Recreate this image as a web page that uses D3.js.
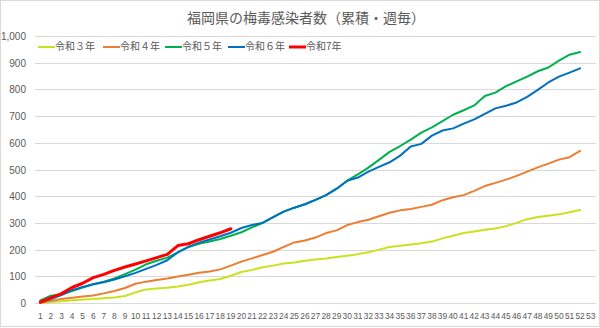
<!DOCTYPE html>
<html lang="ja">
<head>
<meta charset="utf-8">
<script src="https://cdn.jsdelivr.net/npm/d3@7/dist/d3.min.js"></script>
<style>
  html, body { margin: 0; padding: 0; background: #fff; }
  svg { display: block; }
  text { font-family: "Noto Sans CJK JP", "Noto Sans", sans-serif; fill: #595959; }
  .num { font-family: "Liberation Sans", "DejaVu Sans", sans-serif; }
</style>
</head>
<body>
<svg id="chart" width="600" height="328"></svg>
<script>
// Weekly cumulative syphilis cases in Fukuoka Prefecture, by year
const title = "福岡県の梅毒感染者数（累積・週毎）";
const weeks = d3.range(1, 54);               // x categories: week 1..53
const yTicks = [0, 100, 200, 300, 400, 500, 600, 700, 800, 900, 1000];

const seriesNames = ["令和３年", "令和４年", "令和５年", "令和６年", "令和7年"];
const seriesColors = ["#c9e21f", "#ed7d31", "#00b050", "#0070c0", "#ff0000"];

const r3 = [0, 4, 7, 10, 13, 15, 18, 21, 26, 40, 51, 54, 57, 62, 68, 78, 84, 90, 102, 116,
  124, 134, 140, 148, 152, 158, 163, 167, 172, 177, 183, 190, 200, 210, 214, 219, 224, 230, 242, 252,
  262, 268, 274, 279, 288, 300, 314, 322, 327, 332, 340, 348];
const r4 = [0, 8, 15, 20, 24, 28, 36, 45, 56, 72, 80, 86, 92, 99, 106, 113, 118, 126, 140, 155,
  167, 180, 192, 210, 227, 234, 245, 262, 272, 292, 303, 312, 325, 338, 347, 352, 360, 368, 385, 396,
  404, 420, 438, 450, 462, 476, 492, 508, 522, 537, 546, 570];
const r5 = [10, 27, 32, 45, 58, 70, 80, 92, 108, 125, 145, 158, 170, 190, 210, 222, 230, 240, 252, 265,
  283, 300, 322, 342, 357, 370, 386, 404, 428, 458, 482, 507, 536, 566, 588, 612, 638, 658, 681, 705,
  722, 740, 775, 788, 812, 830, 848, 868, 882, 908, 930, 940];
const r6 = [3, 15, 30, 48, 60, 70, 78, 88, 100, 113, 128, 143, 160, 190, 210, 226, 238, 250, 263, 281,
  292, 300, 322, 342, 357, 370, 386, 404, 428, 458, 470, 492, 510, 527, 552, 586, 596, 627, 646, 654,
  672, 688, 708, 729, 739, 751, 772, 798, 826, 848, 863, 879];
const r7 = [3, 20, 35, 58, 74, 95, 107, 122, 135, 146, 158, 170, 182, 215, 222, 237, 250, 263, 278];

const seriesValues = [r3, r4, r5, r6, r7];
const seriesWidths = [2, 2, 2, 2, 3];

const svg = d3.select("#chart");

// outer frame of the chart
svg.append("rect")
  .attr("x", 0.5).attr("y", 0.5)
  .attr("width", 599).attr("height", 326)
  .attr("fill", "#fff").attr("stroke", "#d9d9d9");

const x = d3.scaleBand().domain(weeks).range([35, 596]);
const y = d3.scaleLinear().domain([0, 1000]).range([303, 36]);

// horizontal gridlines
svg.append("g")
  .selectAll("line")
  .data(yTicks)
  .join("line")
  .attr("x1", 35).attr("x2", 596)
  .attr("y1", d => Math.round(y(d)) + 0.5)
  .attr("y2", d => Math.round(y(d)) + 0.5)
  .attr("stroke", "#d9d9d9").attr("stroke-width", 1);

// y axis labels
const yAxis = d3.axisLeft(y).tickValues(yTicks).tickFormat(d3.format(",")).tickSize(0).tickPadding(0);
svg.append("g")
  .attr("transform", "translate(26,0)")
  .call(yAxis)
  .call(g => g.select(".domain").remove())
  .call(g => g.selectAll("text")
    .attr("class", "num")
    .attr("font-size", 10)
    .attr("fill", "#595959")
    .attr("dy", "0.35em"));

// x axis labels
const xAxis = d3.axisBottom(x).tickSize(0).tickPadding(0);
svg.append("g")
  .attr("transform", "translate(0,313)")
  .call(xAxis)
  .call(g => g.select(".domain").remove())
  .call(g => g.selectAll("text")
    .attr("class", "num")
    .attr("font-size", 8.4)
    .attr("fill", "#595959")
    .attr("dy", "0.71em"));

// series lines
const line = d3.line()
  .x((d, i) => x(weeks[i]) + x.bandwidth() / 2)
  .y(d => y(d));

svg.append("g")
  .selectAll("path")
  .data(seriesValues)
  .join("path")
  .attr("d", d => line(d))
  .attr("fill", "none")
  .attr("stroke", (d, i) => seriesColors[i])
  .attr("stroke-width", (d, i) => seriesWidths[i])
  .attr("stroke-linejoin", "round")
  .attr("stroke-linecap", "round");

// title
svg.append("text")
  .attr("x", 306).attr("y", 19)
  .attr("text-anchor", "middle")
  .attr("dominant-baseline", "middle")
  .attr("font-size", 14)
  .text(title);

// legend
const legendX = [38, 103, 165, 228, 289];
const legend = svg.append("g").attr("transform", "translate(0,47)");
const item = legend.selectAll("g")
  .data(seriesNames)
  .join("g")
  .attr("transform", (d, i) => `translate(${legendX[i]},0)`);
item.append("line")
  .attr("x1", 0).attr("x2", 17)
  .attr("stroke", (d, i) => seriesColors[i])
  .attr("stroke-width", (d, i) => seriesWidths[i]);
item.append("text")
  .attr("x", 17)
  .attr("dominant-baseline", "middle")
  .attr("font-size", 10)
  .text(d => d);
</script>
</body>
</html>
